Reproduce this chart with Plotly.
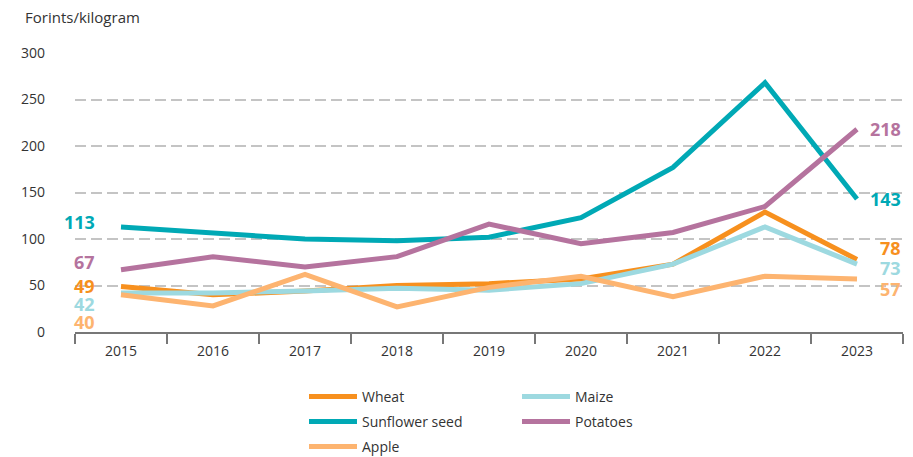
import plotly.graph_objects as go

years = ["2015", "2016", "2017", "2018", "2019", "2020", "2021", "2022", "2023"]
wheat = [49, 40, 44, 50, 52, 57, 73, 129, 78]
sunflower = [113, 106, 100, 98, 102, 123, 177, 268, 143]
apple = [40, 28, 62, 27, 48, 60, 38, 60, 57]
maize = [42, 42, 44, 47, 45, 52, 73, 113, 73]
potatoes = [67, 81, 70, 81, 116, 95, 107, 135, 218]

series = [
    # name, values, color, legend row, left label yshift, right label yshift
    ("Wheat", wheat, "#F7901E", "legend", 0, 11),
    ("Sunflower seed", sunflower, "#00A9B5", "legend2", 5, 0),
    ("Apple", apple, "#FDB470", "legend3", -27, -10),
    ("Maize", maize, "#9DD9E0", "legend", -11, -4),
    ("Potatoes", potatoes, "#B5739E", "legend2", 8, 0),
]
draw_order = ["Wheat", "Maize", "Apple", "Sunflower seed", "Potatoes"]
legend_rank = {"Wheat": 1, "Maize": 2, "Sunflower seed": 3, "Potatoes": 4, "Apple": 5}

FONT = "Open Sans"
fig = go.Figure()
annotations = []
lookup = {s[0]: s for s in series}
last = len(years) - 1
for name in draw_order:
    n, vals, col, leg, lsh, rsh = lookup[name]
    fig.add_trace(go.Scatter(
        x=years, y=vals, name=n, mode="lines",
        line=dict(color=col, width=5), legend=leg, legendrank=legend_rank[n],
    ))
    annotations.append(dict(x=0, y=vals[0], xref="x", yref="y",
                            text=f"<b>{vals[0]}</b>", showarrow=False,
                            xanchor="right", yanchor="middle", xshift=-24, yshift=lsh,
                            font=dict(color=col, size=18, family=FONT)))
    annotations.append(dict(x=last, y=vals[-1], xref="x", yref="y",
                            text=f"<b>{vals[-1]}</b>", showarrow=False,
                            xanchor="right", yanchor="middle", xshift=46, yshift=rsh,
                            font=dict(color=col, size=18, family=FONT)))

annotations.append(dict(
    x=(23 - 75) / 828, y=(332 - 17) / 279, xref="paper", yref="paper", text="Forints/kilogram",
    showarrow=False, xanchor="left", yanchor="middle",
    font=dict(size=15, color="#333333", family=FONT)))

legend_common = dict(orientation="h", yref="container", xref="container",
                     xanchor="left", yanchor="top", itemwidth=48,
                     entrywidth=150, entrywidthmode="pixels",
                     font=dict(size=14, color="#333333", family=FONT), bgcolor="rgba(0,0,0,0)")

fig.update_layout(
    width=913, height=457,
    margin=dict(l=75, r=10, t=53, b=125),
    paper_bgcolor="white", plot_bgcolor="white",
    font=dict(family=FONT, size=14, color="#333333"),
    showlegend=True,
    legend=dict(x=304 / 913, y=1 - 381 / 457, **legend_common),
    legend2=dict(x=304 / 913, y=1 - 406 / 457, **legend_common),
    legend3=dict(x=304 / 913, y=1 - 431 / 457, **legend_common),
    annotations=annotations,
    xaxis=dict(type="category", range=[-0.5, 8.5], tickson="boundaries", ticks="outside",
               ticklen=10, tickwidth=2, tickcolor="#777777", showline=True, linecolor="#777777",
               linewidth=2, showgrid=False, zeroline=False, ticklabelstandoff=5,
               tickfont=dict(size=14, color="#333333")),
    yaxis=dict(range=[0, 300], tickvals=[0, 50, 100, 150, 200, 250, 300], showgrid=True,
               gridcolor="#C4C4C4", gridwidth=1.6, griddash="11px,5px", zeroline=False,
               showline=False, ticks="", ticklabelstandoff=29,
               tickfont=dict(size=14, color="#333333")),
)
fig.write_html("out.html", config={"displayModeBar": False},
               post_script="document.body.style.margin='0';")
